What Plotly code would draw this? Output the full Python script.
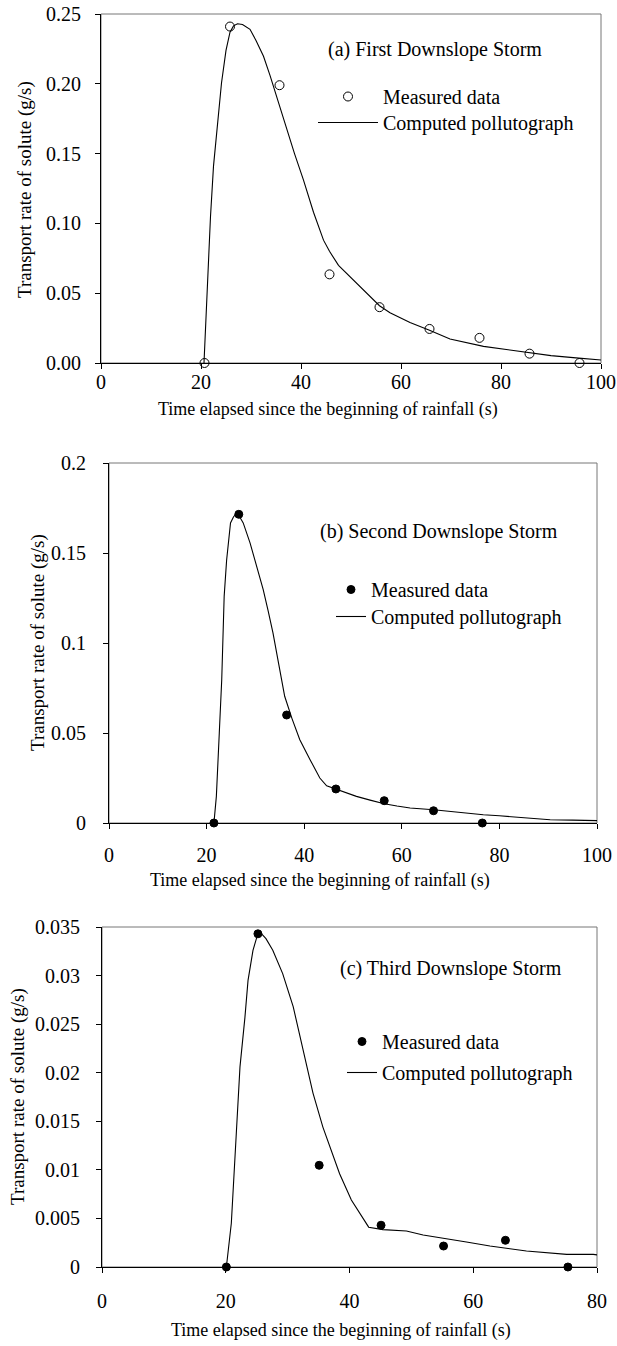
import plotly.graph_objects as go

FONT = "Liberation Serif, Times New Roman, Times, serif"
W, H = 617, 1346

# ---------------- Panel (a) First Downslope Storm ----------------
ta_meas = [20.7, 25.8, 35.7, 45.7, 55.7, 65.7, 75.7, 85.7, 95.7]
qa_meas = [0.0, 0.241, 0.199, 0.0635, 0.040, 0.0244, 0.018, 0.0067, 0.0]
ta_calc = [20.6, 21.2, 21.9, 22.5, 23.1, 24.1, 25.0, 25.8, 26.5, 27.3, 28.3, 29.8,
           31.0, 32.5, 33.8, 35.1, 36.2, 37.1, 38.7, 40.5, 42.5, 44.5, 45.7, 47.5,
           49.8, 53.1, 55.7, 57.8, 61.8, 65.7, 69.8, 76.5, 80.0, 85.7, 90.0, 95.0, 100.0]
qa_calc = [0.0, 0.05, 0.105, 0.141, 0.165, 0.2006, 0.224, 0.237, 0.2415, 0.243, 0.2425, 0.239,
           0.231, 0.2197, 0.206, 0.191, 0.178, 0.169, 0.150, 0.131, 0.108, 0.088, 0.080, 0.070,
           0.062, 0.050, 0.041, 0.036, 0.029, 0.0235, 0.0172, 0.0119, 0.0102, 0.0072, 0.0053, 0.0037, 0.0022]

# ---------------- Panel (b) Second Downslope Storm ----------------
tb_meas = [21.5, 26.6, 36.4, 46.5, 56.4, 66.5, 76.5]
qb_meas = [0.0, 0.1715, 0.060, 0.0189, 0.0124, 0.0068, 0.0]
tb_calc = [21.5, 22.0, 22.6, 23.1, 23.6, 24.1, 24.9, 25.5, 26.1, 26.8, 27.5, 28.2, 28.9,
           29.9, 30.7, 31.6, 32.6, 33.6, 34.8, 36.0, 37.5, 39.1, 41.2, 43.2, 44.6, 46.5,
           48.5, 50.7, 53.5, 56.4, 59.0, 61.7, 66.5, 71.0, 76.7, 80.0, 84.9, 90.4, 95.0, 100.0]
qb_calc = [0.0, 0.0148, 0.05, 0.0796, 0.126, 0.146, 0.1667, 0.170, 0.172, 0.170, 0.1667, 0.161, 0.1556,
           0.146, 0.138, 0.1296, 0.118, 0.1056, 0.088, 0.0704, 0.058, 0.0463, 0.0352, 0.025, 0.0207, 0.0189,
           0.0168, 0.0148, 0.0127, 0.0107, 0.0094, 0.0083, 0.0074, 0.006, 0.0046, 0.0040, 0.0028, 0.0018, 0.0016, 0.0013]

# ---------------- Panel (c) Third Downslope Storm ----------------
tc_meas = [20.1, 25.2, 35.1, 45.1, 55.2, 65.2, 75.3]
qc_meas = [0.0, 0.0343, 0.01047, 0.0043, 0.00216, 0.00275, 0.0]
tc_calc = [20.1, 20.9, 21.7, 22.3, 23.1, 23.6, 24.4, 25.0, 25.5, 26.5, 27.6, 29.2, 30.9,
           32.5, 34.1, 35.7, 37.0, 38.4, 40.3, 41.9, 43.1, 45.4, 49.2, 51.9, 55.1, 58.9,
           62.7, 68.6, 75.1, 79.4, 81.0]
qc_calc = [0.0, 0.0045, 0.0137, 0.0206, 0.0257, 0.0295, 0.0326, 0.0339, 0.0345, 0.0338, 0.0326, 0.0302, 0.0268,
           0.0223, 0.0179, 0.0144, 0.0120, 0.0096, 0.0069, 0.0053, 0.0041, 0.00385, 0.0037, 0.0033, 0.0030, 0.00257,
           0.00216, 0.00165, 0.0013, 0.0013, 0.00117]

ya_ticks = [0, 0.05, 0.10, 0.15, 0.20, 0.25]
yb_ticks = [0, 0.05, 0.1, 0.15, 0.2]
yb_text = ["0", "0.05", "0.1", "0.15", "0.2"]
yc_ticks = [0, 0.005, 0.01, 0.015, 0.02, 0.025, 0.03, 0.035]
yc_text = ["0", "0.005", "0.01", "0.015", "0.02", "0.025", "0.03", "0.035"]

panel_titles = ["(a) First Downslope Storm", "(b) Second Downslope Storm", "(c) Third Downslope Storm"]
x_title = "Time elapsed since the beginning of rainfall (s)"
y_title = "Transport rate of solute (g/s)"

fig = go.Figure()

def add_panel(xm, ym, xc, yc, ax, leg_m, leg_l, open_marker):
    xa = "x" if ax == 1 else f"x{ax}"
    ya = "y" if ax == 1 else f"y{ax}"
    fig.add_trace(go.Scatter(
        x=xm, y=ym, mode="markers", name="Measured data",
        marker=dict(symbol="circle-open" if open_marker else "circle",
                    size=9 if open_marker else 8, color="black", line=dict(width=1, color="black")),
        cliponaxis=False, xaxis=xa, yaxis=ya, legend=leg_m))
    fig.add_trace(go.Scatter(
        x=xc, y=yc, mode="lines", name="Computed pollutograph",
        line=dict(color="black", width=1.1), xaxis=xa, yaxis=ya, legend=leg_l))

add_panel(ta_meas, qa_meas, ta_calc, qa_calc, 1, "legend", "legend2", True)
add_panel(tb_meas, qb_meas, tb_calc, qb_calc, 2, "legend3", "legend4", False)
add_panel(tc_meas, qc_meas, tc_calc, qc_calc, 3, "legend5", "legend6", False)

tickfont = dict(family=FONT, size=20, color="black")
common = dict(showline=True, linecolor="black", linewidth=1, mirror=False, ticks="outside",
              ticklen=5, tickcolor="black", tickwidth=1, showgrid=False, zeroline=False,
              tickfont=tickfont, automargin=False, layer="above traces")

def px_x(a, b):
    return [a / W, b / W]

def px_y(top, bottom):
    return [1 - bottom / H, 1 - top / H]

fig.update_layout(
    template="none",
    xaxis=dict(domain=px_x(101, 601), range=[0, 100], tickvals=[0, 20, 40, 60, 80, 100],
               anchor="y", ticklabelstandoff=-4, **common),
    yaxis=dict(domain=px_y(14, 363), range=[0, 0.25], tickvals=ya_ticks, tickformat=".2f",
               anchor="x", ticklabelstandoff=10, **common),
    xaxis2=dict(domain=px_x(109, 597), range=[0, 100], tickvals=[0, 20, 40, 60, 80, 100],
                anchor="y2", ticklabelstandoff=9, **common),
    yaxis2=dict(domain=px_y(463, 823), range=[0, 0.2], tickvals=yb_ticks, ticktext=yb_text,
                anchor="x2", ticklabelstandoff=13, **common),
    xaxis3=dict(domain=px_x(102, 597), range=[0, 80], tickvals=[0, 20, 40, 60, 80],
                anchor="y3", ticklabelstandoff=11, **common),
    yaxis3=dict(domain=px_y(927, 1267), range=[0, 0.035], tickvals=yc_ticks, ticktext=yc_text,
                anchor="x3", ticklabelstandoff=12, **common),
)

# grey frame (top and right borders of each plot box)
shapes = []
for sx, sy in [("x", "y"), ("x2", "y2"), ("x3", "y3")]:
    shapes.append(dict(type="rect", xref=f"{sx} domain", yref=f"{sy} domain",
                       x0=0, x1=1, y0=0, y1=1, line=dict(color="#777777", width=1),
                       fillcolor="rgba(0,0,0,0)", layer="below"))

legfont = dict(family=FONT, size=20, color="black")
legcommon = dict(xanchor="left", yanchor="top", font=legfont, bgcolor="rgba(0,0,0,0)",
                 borderwidth=0, tracegroupgap=0)
fig.update_layout(
    showlegend=True,
    legend=dict(x=313 / W, y=1 - 77 / H, itemwidth=60, **legcommon),
    legend2=dict(x=313 / W, y=1 - 103 / H, itemwidth=60, **legcommon),
    legend3=dict(x=331 / W, y=1 - 570 / H, **legcommon),
    legend4=dict(x=331 / W, y=1 - 597 / H, **legcommon),
    legend5=dict(x=342 / W, y=1 - 1022 / H, **legcommon),
    legend6=dict(x=342 / W, y=1 - 1053 / H, **legcommon),
)

annots = []
# panel labels
for txt, xp, yp in zip(panel_titles, [326, 318, 338], [50, 532, 968]):
    annots.append(dict(text=txt, x=xp / W, y=1 - yp / H, xref="paper", yref="paper",
                       xanchor="left", yanchor="middle", showarrow=False, font=legfont))
# x-axis titles
for xp, yp in zip([328, 320, 341], [409, 880, 1330]):
    annots.append(dict(text=x_title, x=xp / W, y=1 - yp / H, xref="paper", yref="paper",
                       xanchor="center", yanchor="middle", showarrow=False,
                       font=dict(family=FONT, size=18, color="black")))
# y-axis titles
for xp, yp in zip([25, 38, 18], [190, 643, 1097]):
    annots.append(dict(text=y_title, x=xp / W, y=1 - yp / H, xref="paper", yref="paper",
                       xanchor="center", yanchor="middle", showarrow=False, textangle=-90,
                       font=dict(family=FONT, size=19, color="black")))

fig.update_layout(
    annotations=annots,
    shapes=shapes,
    width=W, height=H,
    margin=dict(l=0, r=0, t=0, b=0, autoexpand=False),
    plot_bgcolor="white", paper_bgcolor="white",
    hovermode=False,
)

fig.write_html("out.html", config={"displayModeBar": False, "responsive": False},
               post_script="document.body.style.margin='0';document.body.style.padding='0';")
